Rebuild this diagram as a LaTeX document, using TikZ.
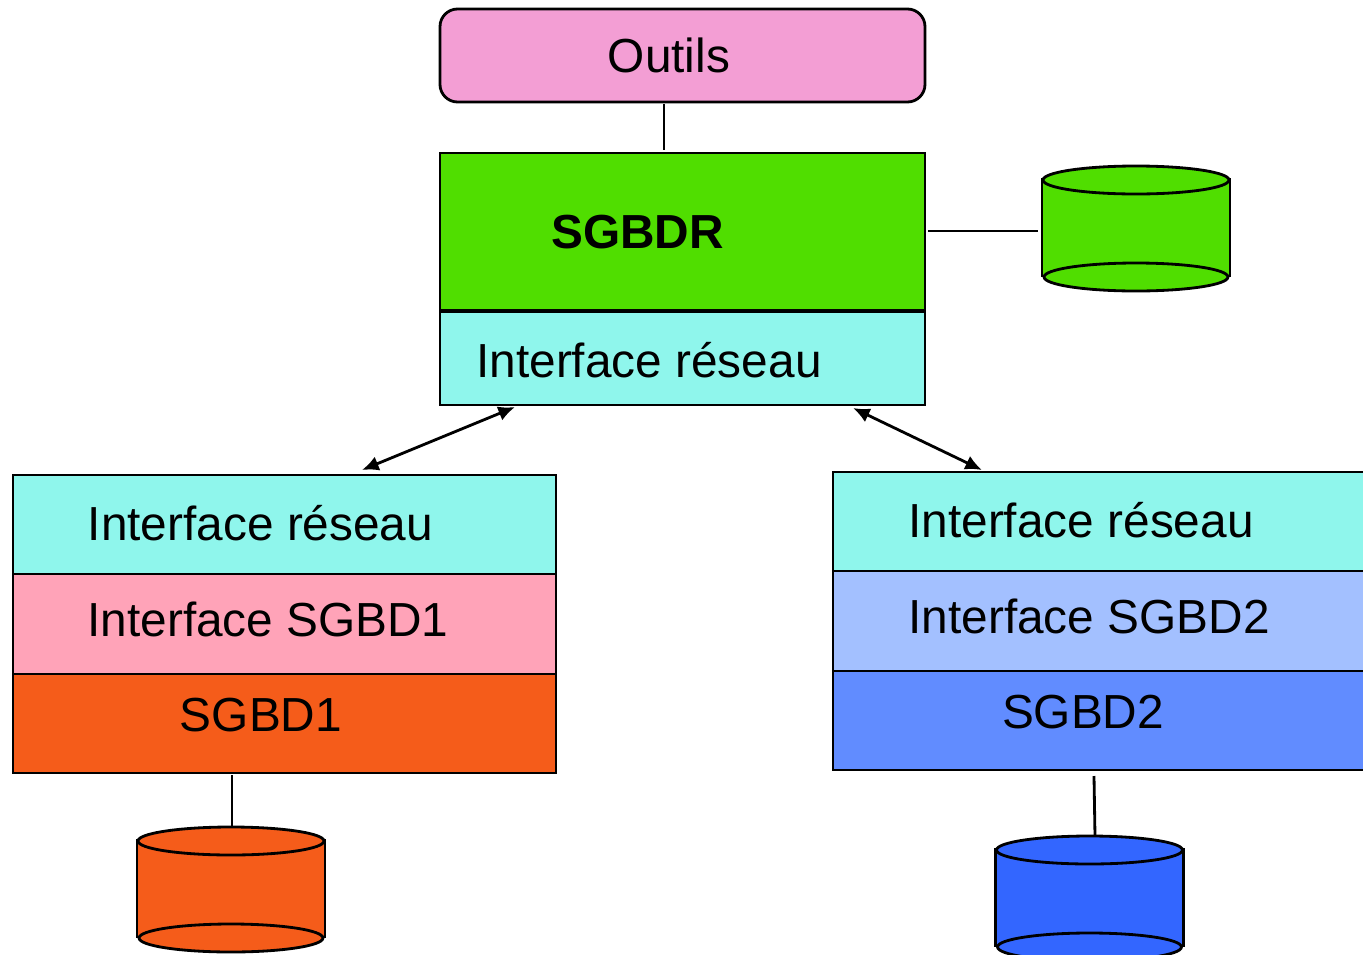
\documentclass[tikz,border=0pt]{standalone}
\usepackage{fontspec}
\setmainfont{Liberation Sans}
\usetikzlibrary{arrows.meta}
\definecolor{outilscol}{RGB}{243,158,212}
\definecolor{vertcol}{RGB}{80,222,0}
\definecolor{reseaucol}{RGB}{143,246,236}
\definecolor{rosecol}{RGB}{255,163,184}
\definecolor{orangecol}{RGB}{245,92,26}
\definecolor{bleuclcol}{RGB}{163,192,255}
\definecolor{bleucol}{RGB}{97,140,255}
\definecolor{bleufcol}{RGB}{51,102,255}
\tikzset{
  layer/.style={draw,line width=1.6pt,anchor=north west,inner sep=0pt,outer sep=0pt},
  lbl/.style={font=\fontsize{27.2pt}{27.2pt}\selectfont,inner sep=0pt,text=black},
  link/.style={line width=1.6pt},
  dbl/.style={link,{Latex[length=9.5pt,width=8.5pt]}-{Latex[length=9.5pt,width=8.5pt]}},
  disk/.style={line width=1.6pt,fill=#1},
}
\newcommand{\dbcyl}[3]{%
  \draw[disk=#3,shift={(#1,#2)}] (0,-1) -- (0,96) -- (188,96) -- (188,-1) -- cycle;
  \draw[disk=#3,shift={(#1,#2)}] (94,97) ellipse (92 and 14);
  \draw[disk=#3,shift={(#1,#2)}] (94,0) ellipse (93 and 14);
}
\begin{document}
\begin{tikzpicture}[x=0.02cm,y=-0.02cm]
    \useasboundingbox (0,0) rectangle (1363,954);
    %% upper block
    \node[layer,fill=outilscol,rounded corners=10pt,minimum width=485*0.02cm,minimum height=93*0.02cm] (outils) at (440,9) {};
    \node[layer,fill=vertcol,minimum width=485*0.02cm,minimum height=157*0.02cm] (sgbdr) at (440,153) {};
    \node[layer,fill=reseaucol,minimum width=485*0.02cm,minimum height=93*0.02cm] (resC) at (440,312) {};
    \node[lbl] at (669,55.5) {Outils};
    \node[lbl,font=\fontsize{27.2pt}{27.2pt}\selectfont\bfseries] at (637.5,232) {SGBDR};
    \node[lbl] at (649,360) {Interface réseau};
    %% left block
    \node[layer,fill=reseaucol,minimum width=543*0.02cm,minimum height=99*0.02cm] (resL) at (13,475) {};
    \node[layer,fill=rosecol,minimum width=543*0.02cm,minimum height=100*0.02cm] (intL) at (13,574) {};
    \node[layer,fill=orangecol,minimum width=543*0.02cm,minimum height=99*0.02cm] (dbL) at (13,674) {};
    \node[lbl] at (260.5,523) {Interface réseau};
    \node[lbl] at (268,619) {Interface SGBD1};
    \node[lbl] at (261,715) {SGBD1};
    %% right block
    \node[layer,fill=reseaucol,minimum width=543*0.02cm,minimum height=99*0.02cm] (resR) at (833,472) {};
    \node[layer,fill=bleuclcol,minimum width=543*0.02cm,minimum height=100*0.02cm] (intR) at (833,571) {};
    \node[layer,fill=bleucol,minimum width=543*0.02cm,minimum height=99*0.02cm] (dbR) at (833,671) {};
    \node[lbl] at (1081,520) {Interface réseau};
    \node[lbl] at (1089,616) {Interface SGBD2};
    \node[lbl] at (1083,712) {SGBD2};
    %% disks
    \dbcyl{1042}{180}{vertcol}
    \dbcyl{137}{841}{orangecol}
    \dbcyl{995.5}{850}{bleufcol}
    %% links
    \coordinate (a1) at (664,104);
    \coordinate (a2) at (664,150);
    \coordinate (b1) at (928,231);
    \coordinate (b2) at (1038,231);
    \coordinate (c1) at (232,775);
    \coordinate (c2) at (232,827);
    \coordinate (d1) at (1094,776);
    \coordinate (d2) at (1095,836);
    \coordinate (e1) at (515,407);
    \coordinate (e2) at (362,470);
    \coordinate (f1) at (853,408);
    \coordinate (f2) at (982,470);
    \draw[link] (a1) -- (a2);
    \draw[link] (b1) -- (b2);
    \draw[link] (c1) -- (c2);
    \draw[link] (d1) -- (d2);
    \draw[dbl] (e1) -- (e2);
    \draw[dbl] (f1) -- (f2);
\end{tikzpicture}
\end{document}
